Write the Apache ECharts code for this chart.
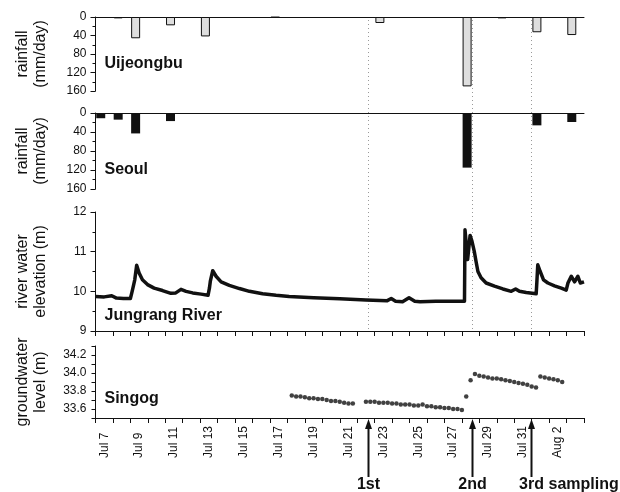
<!DOCTYPE html>
<html><head><meta charset="utf-8">
<script src="https://cdn.jsdelivr.net/npm/echarts@6/dist/echarts.min.js"></script>
<style>html,body{margin:0;padding:0;background:#fff}#c{width:620px;height:492px}</style>
</head><body><div id="c"></div>
<script>
// ---- data ----
const dayLabels = ['Jul 7','Jul 8','Jul 9','Jul 10','Jul 11','Jul 12','Jul 13','Jul 14','Jul 15','Jul 16',
  'Jul 17','Jul 18','Jul 19','Jul 20','Jul 21','Jul 22','Jul 23','Jul 24','Jul 25','Jul 26','Jul 27',
  'Jul 28','Jul 29','Jul 30','Jul 31','Aug 1','Aug 2','Aug 3'];
const uijeongbuDays = ['Jul 8','Jul 9','Jul 11','Jul 13','Jul 17','Jul 23','Jul 28','Jul 30','Aug 1','Aug 3'];
const uijeongbuRain = [3, 46, 18, 42, 1, 13, 150, 3, 33, 39];
const seoulDays = ['Jul 7','Jul 8','Jul 9','Jul 11','Jul 13','Jul 24','Jul 28','Aug 1','Aug 3'];
const seoulRain = [11, 14, 43, 17, 2, 2, 115, 26, 19];
// river water elevation: [days since Jul 7 00:00, elevation m]
const riverLevel = [[0,9.87],[0.5,9.86],[0.93,9.89],[1.2,9.83],[1.6,9.82],[2.0,9.82],[2.08,9.96],[2.17,10.13],
  [2.25,10.29],[2.36,10.66],[2.5,10.46],[2.69,10.29],[2.98,10.17],[3.36,10.08],[3.84,10.02],[4.32,9.95],
  [4.6,9.96],[4.9,10.05],[5.19,10.0],[5.57,9.96],[6.05,9.93],[6.45,9.9],[6.53,10.08],[6.58,10.25],[6.72,10.52],
  [6.91,10.38],[7.2,10.24],[7.67,10.15],[8.25,10.07],[8.82,10.0],[9.58,9.94],[10.35,9.9],[11.1,9.87],
  [12.5,9.84],[14.0,9.81],[15.5,9.78],[16.7,9.76],[16.95,9.82],[17.2,9.75],[17.6,9.74],[17.97,9.84],
  [18.3,9.75],[18.6,9.74],[19.5,9.75],[20.5,9.75],[21.15,9.75],[21.18,11.55],[21.33,10.8],[21.47,11.41],
  [21.58,11.26],[21.71,11.01],[21.81,10.76],[21.92,10.5],[22.1,10.34],[22.39,10.21],[22.87,10.13],
  [23.35,10.06],[23.83,10.0],[24.08,10.06],[24.3,10.0],[24.69,9.97],[25.26,9.94],[25.3,10.25],[25.35,10.67],
  [25.49,10.5],[25.68,10.29],[25.93,10.21],[26.31,10.14],[26.7,10.08],[26.98,10.03],[27.08,10.21],
  [27.27,10.38],[27.46,10.24],[27.65,10.38],[27.79,10.21],[28.0,10.24]];
// groundwater level at Singog: [days since Jul 7 00:00, level m]
const groundwaterLevel = [
  [11.25,33.75],[11.5,33.74],[11.75,33.74],[12.0,33.73],[12.25,33.72],[12.5,33.72],[12.75,33.71],[13.0,33.71],
  [13.25,33.70],[13.5,33.69],[13.75,33.69],[14.0,33.68],[14.25,33.67],[14.5,33.66],[14.75,33.66],
  [15.5,33.68],[15.75,33.68],[16.0,33.68],[16.25,33.67],[16.5,33.67],[16.75,33.67],[17.0,33.66],[17.25,33.66],
  [17.5,33.65],[17.75,33.65],[18.0,33.65],[18.25,33.64],[18.5,33.64],[18.75,33.65],[19.0,33.63],[19.25,33.63],
  [19.5,33.62],[19.75,33.62],[20.0,33.61],[20.25,33.61],[20.5,33.60],[20.75,33.60],[21.0,33.59],
  [21.25,33.74],[21.5,33.92],
  [21.75,33.99],[22.0,33.97],[22.25,33.96],[22.5,33.95],[22.75,33.94],[23.0,33.94],[23.25,33.93],[23.5,33.92],
  [23.75,33.91],[24.0,33.90],[24.25,33.89],[24.5,33.88],[24.75,33.87],[25.0,33.85],[25.25,33.84],
  [25.5,33.96],[25.75,33.95],[26.0,33.94],[26.25,33.93],[26.5,33.92],[26.75,33.90]];
const samplingDays = [15.6, 21.6, 24.95];
const samplingLabels = ['1st', '2nd', '3rd'];
const riverYTicks = [9, 12, 1];
const rainMax = 160;

// ---- chart ----
const FONT = 'Liberation Sans, Arial, sans-serif';
const BAR_POS = 0.3; // bars drawn early in each day slot
const dayIndex = d => dayLabels.indexOf(d);
const chart = echarts.init(document.getElementById('c'), null, {renderer: 'canvas'});
const L = 95.5, R = 36;
const grids = [
  {left: L, right: R, top: 17, height: 74},
  {left: L, right: R, top: 113, height: 76},
  {left: L, right: R, top: 212, height: 119},
  {left: L, right: R, top: 346, height: 72}
];
const axisLine = {show: true, lineStyle: {color: '#111', width: 1}};
const yLabel = {fontSize: 12, color: '#111', fontFamily: FONT, margin: 9};
const yName = {fontSize: 16, color: '#111', fontFamily: FONT, lineHeight: 18};
function rainY(gi) {
  return {gridIndex: gi, type: 'value', inverse: true, min: 0, max: rainMax, interval: 40,
    name: 'rainfall\n(mm/day)', nameLocation: 'middle', nameGap: 46, nameTextStyle: yName,
    axisLine: axisLine, axisTick: {show: true, length: 5, lineStyle: {color: '#111'}},
    minorTick: {show: true, splitNumber: 2, length: 3, lineStyle: {color: '#111'}},
    axisLabel: yLabel, splitLine: {show: false}};
}
function topX(gi) {
  return {gridIndex: gi, type: 'value', min: 0, max: dayLabels.length, position: 'top',
    axisLine: axisLine, axisTick: {show: false}, axisLabel: {show: false}, splitLine: {show: false}};
}
const option = {
  animation: false,
  backgroundColor: '#fff',
  grid: grids,
  xAxis: [
    topX(0), topX(1),
    {gridIndex: 2, type: 'value', min: 0, max: dayLabels.length, interval: 1, position: 'bottom',
      axisLine: axisLine, axisTick: {show: true, length: 5, lineStyle: {color: '#111'}},
      axisLabel: {show: false}, splitLine: {show: false}},
    {gridIndex: 3, type: 'value', min: 0, max: dayLabels.length, show: false},
    {gridIndex: 3, type: 'category', data: dayLabels, boundaryGap: true, position: 'bottom',
      axisLine: axisLine, axisTick: {show: true, interval: 0, length: 5, lineStyle: {color: '#111'}},
      axisLabel: {interval: 1, rotate: 90, margin: 40, align: 'left', verticalAlign: 'middle',
        fontSize: 12, color: '#111', fontFamily: FONT},
      splitLine: {show: false}}
  ],
  yAxis: [
    rainY(0), rainY(1),
    {gridIndex: 2, type: 'value', min: riverYTicks[0], max: riverYTicks[1], interval: riverYTicks[2],
      name: 'river water\nelevation (m)', nameLocation: 'middle', nameGap: 46, nameTextStyle: yName,
      axisLine: axisLine, axisTick: {show: true, length: 5, lineStyle: {color: '#111'}},
      minorTick: {show: true, splitNumber: 2, length: 3, lineStyle: {color: '#111'}},
      axisLabel: yLabel, splitLine: {show: false}},
    {gridIndex: 3, type: 'value', min: 33.5, max: 34.3, interval: 0.1,
      name: 'groundwater\nlevel (m)', nameLocation: 'middle', nameGap: 46, nameTextStyle: yName,
      axisLine: axisLine, axisTick: {show: true, length: 4, lineStyle: {color: '#111'}},
      axisLabel: Object.assign({}, yLabel, {formatter: v => (Math.round(v * 10) % 2 === 0 ? v.toFixed(1) : '')}),
      splitLine: {show: false}}
  ],
  series: [
    {type: 'bar', name: 'Uijeongbu', xAxisIndex: 0, yAxisIndex: 0, barWidth: 9,
      data: uijeongbuDays.map((d, i) => [dayIndex(d) + BAR_POS, uijeongbuRain[i]]),
      itemStyle: {color: '#dedede', borderColor: '#111', borderWidth: 1}},
    {type: 'bar', name: 'Seoul', xAxisIndex: 1, yAxisIndex: 1, barWidth: 9,
      data: seoulDays.map((d, i) => [dayIndex(d) + BAR_POS, seoulRain[i]]),
      itemStyle: {color: '#111'}},
    {type: 'line', name: 'Jungrang River', xAxisIndex: 2, yAxisIndex: 2, data: riverLevel,
      showSymbol: false, lineStyle: {color: '#111', width: 3.5, join: 'round'}, itemStyle: {color: '#111'}},
    {type: 'scatter', name: 'Singog', xAxisIndex: 3, yAxisIndex: 3, data: groundwaterLevel,
      symbolSize: 4.5, itemStyle: {color: '#111'}}
  ]
};
chart.setOption(option);

// ---- annotations placed through the axes' scales ----
const g = [];
const panelTitles = [['Uijeongbu', 0, 0, 100], ['Seoul', 1, 0, 120], ['Jungrang River', 2, 0, 9.38], ['Singog', 3, 0, 33.72]];
panelTitles.forEach(([t, gi, xv, yv]) => {
  const p = chart.convertToPixel({xAxisIndex: gi, yAxisIndex: gi}, [xv, yv]);
  g.push({type: 'text', x: p[0] + 9, y: p[1], silent: true,
    style: {text: t, font: 'bold 16px ' + FONT, fill: '#111', textVerticalAlign: 'middle'}});
});
const topY = chart.convertToPixel({xAxisIndex: 0, yAxisIndex: 0}, [0, 0])[1];
const riverBottom = chart.convertToPixel({xAxisIndex: 2, yAxisIndex: 2}, [0, 9])[1];
const axisY = chart.convertToPixel({xAxisIndex: 3, yAxisIndex: 3}, [0, 33.5])[1];
samplingDays.forEach((d, i) => {
  const x = Math.round(chart.convertToPixel({xAxisIndex: 3, yAxisIndex: 3}, [d, 33.5])[0]) + 0.5;
  g.push({type: 'line', silent: true, shape: {x1: x, y1: topY + 3, x2: x, y2: riverBottom},
    style: {stroke: '#9a9a9a', lineWidth: 1, lineDash: [1, 3]}});
  g.push({type: 'line', silent: true, shape: {x1: x, y1: 477, x2: x, y2: axisY + 8},
    style: {stroke: '#111', lineWidth: 2}});
  g.push({type: 'polygon', silent: true, shape: {points: [[x, axisY + 1], [x - 3.5, axisY + 11], [x + 3.5, axisY + 11]]},
    style: {fill: '#111'}});
  g.push({type: 'text', silent: true, x: x, y: 485,
    style: {text: samplingLabels[i], font: 'bold 16px ' + FONT, fill: '#111', textAlign: 'center', textVerticalAlign: 'middle'}});
  if (i === samplingDays.length - 1) {
    g.push({type: 'text', silent: true, x: x + 17, y: 485,
      style: {text: 'sampling', font: 'bold 16px ' + FONT, fill: '#111', textAlign: 'left', textVerticalAlign: 'middle'}});
  }
});
chart.setOption({graphic: g});
</script>
</body></html>
